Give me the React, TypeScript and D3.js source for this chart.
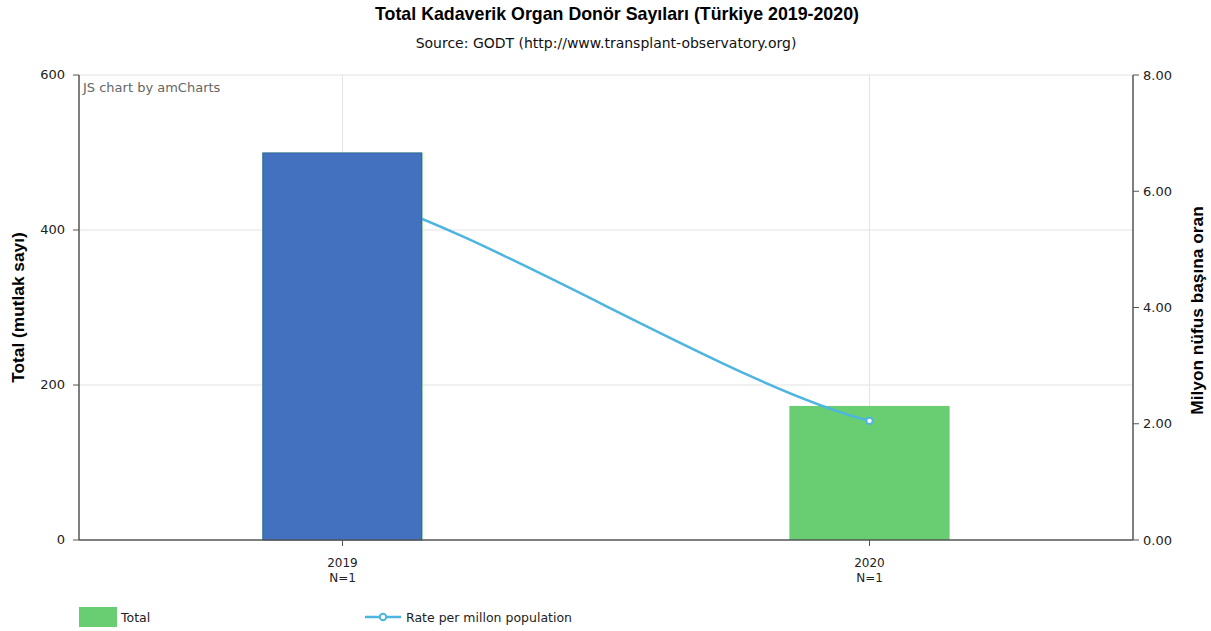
import React from 'react'
import * as d3 from 'd3'

// chart data
const categories: string[] = ['2019', '2020']
const categoryNotes: string[] = ['N=1', 'N=1']
const totalValues: number[] = [500, 173]
const highlightValues: (number | null)[] = [500, null]
const rateValues: number[] = [6.0, 2.05]
const leftTicks: number[] = [0, 200, 400, 600]
const rightTicks: number[] = [0, 2, 4, 6, 8]

const title = 'Total Kadaverik Organ Donör Sayıları (Türkiye 2019-2020)'
const subtitle = 'Source: GODT (http://www.transplant-observatory.org)'
const leftTitle = 'Total (mutlak sayı)'
const rightTitle = 'Milyon nüfus başına oran'
const legendItems: string[] = ['Total', 'Rate per millon population']

const W = 1211
const H = 631
const plot = { left: 79, right: 1133, top: 75, bottom: 540 }

const green = '#68ce71'
const blue = '#4470c0'
const lineColor = '#4db5df'
const verdana = '"DejaVu Sans", Verdana, sans-serif'
const arial = '"Liberation Sans", Arial, sans-serif'

const x = d3.scaleBand<string>()
    .domain(categories)
    .range([plot.left, plot.right])
    .padding(0)

const yLeft = d3.scaleLinear()
    .domain([0, 600])
    .range([plot.bottom, plot.top])

const yRight = d3.scaleLinear()
    .domain([0, 8])
    .range([plot.bottom, plot.top])

const barWidth = x.bandwidth() * 0.304
const cx = (c: string) => (x(c) as number) + x.bandwidth() / 2

// smoothed line like the amCharts one: softer curve than bumpX
function smoothPath(pts: [number, number][]) {
    const p = d3.path()
    p.moveTo(pts[0][0], pts[0][1])
    for (let i = 1; i < pts.length; i++) {
        const [x0, y0] = pts[i - 1]
        const [x1, y1] = pts[i]
        const dx = x1 - x0
        const dy = y1 - y0
        p.bezierCurveTo(x0 + dx * 0.27, y0 + dy * 0.16, x1 - dx * 0.27, y1 - dy * 0.16, x1, y1)
    }
    return p.toString()
}

const App = () => {
    const ratePoints: [number, number][] = categories.map((c, i) => [cx(c), yRight(rateValues[i])])

    return (
        <div style={{ position: 'absolute', left: 0, top: 0 }}>
            <svg width={W} height={H} style={{ display: 'block', background: '#fff' }}>
                <text x={617} y={20} textAnchor="middle" fontFamily={arial} fontWeight="bold" fontSize={17.8} fill="#000">{title}</text>
                <text x={606} y={48} textAnchor="middle" fontFamily={verdana} fontSize={14} fill="#111">{subtitle}</text>

                {/* grid */}
                {leftTicks.filter(t => t > 0).map(t => (
                    <line key={`gh-${t}`} x1={plot.left} x2={plot.right} y1={yLeft(t)} y2={yLeft(t)} stroke="#e3e3e3" />
                ))}
                {categories.map(c => (
                    <line key={`gv-${c}`} x1={cx(c)} x2={cx(c)} y1={plot.top} y2={plot.bottom} stroke="#e3e3e3" />
                ))}

                <text x={83} y={92} fontFamily={verdana} fontSize={13} fill="#666">JS chart by amCharts</text>

                {/* bars of the Total series */}
                {categories.map((c, i) => (
                    <rect key={`bar-${c}`} x={cx(c) - barWidth / 2} y={yLeft(totalValues[i])}
                          width={barWidth} height={plot.bottom - yLeft(totalValues[i])} fill={green} />
                ))}

                {/* rate line */}
                <path d={smoothPath(ratePoints)} fill="none" stroke={lineColor} strokeWidth={2.5} />
                {ratePoints.map(([px, py], i) => (
                    <circle key={`pt-${i}`} cx={px} cy={py} r={3.2} fill="#fff" stroke={lineColor} strokeWidth={2} />
                ))}

                {/* highlighted bar drawn on top */}
                {categories.map((c, i) => highlightValues[i] == null ? null : (
                    <rect key={`hl-${c}`} x={cx(c) - barWidth / 2 + 0.5} y={yLeft(highlightValues[i] as number) + 0.5}
                          width={barWidth - 1.5} height={plot.bottom - yLeft(highlightValues[i] as number) - 0.5}
                          fill={blue} stroke="#3a62ad" strokeWidth={1} />
                ))}

                {/* left axis */}
                <line x1={plot.left} x2={plot.left} y1={plot.top} y2={plot.bottom} stroke="#555" strokeWidth={1.5} />
                {leftTicks.map(t => (
                    <g key={`lt-${t}`}>
                        <line x1={plot.left - 6} x2={plot.left} y1={yLeft(t)} y2={yLeft(t)} stroke="#555" />
                        <text x={plot.left - 14} y={yLeft(t) + 4} textAnchor="end" fontFamily={verdana} fontSize={13} fill="#222">{t}</text>
                    </g>
                ))}
                <text transform={`translate(24, ${(plot.top + plot.bottom) / 2}) rotate(-90)`} textAnchor="middle"
                      fontFamily={arial} fontWeight="bold" fontSize={17.3} fill="#000">{leftTitle}</text>

                {/* right axis */}
                <line x1={plot.right} x2={plot.right} y1={plot.top} y2={plot.bottom} stroke="#555" strokeWidth={1.5} />
                {rightTicks.map(t => (
                    <g key={`rt-${t}`}>
                        <line x1={plot.right} x2={plot.right + 6} y1={yRight(t)} y2={yRight(t)} stroke="#555" />
                        <text x={plot.right + 10} y={yRight(t) + 4.5} fontFamily={verdana} fontSize={13} fill="#222">{t.toFixed(2)}</text>
                    </g>
                ))}
                <text transform={`translate(1203, ${(plot.top + plot.bottom) / 2 + 3}) rotate(-90)`} textAnchor="middle"
                      fontFamily={arial} fontWeight="bold" fontSize={17.3} fill="#000">{rightTitle}</text>

                {/* bottom axis */}
                <line x1={plot.left} x2={plot.right} y1={plot.bottom} y2={plot.bottom} stroke="#555" strokeWidth={1.5} />
                {categories.map((c, i) => (
                    <g key={`xt-${c}`}>
                        <line x1={cx(c)} x2={cx(c)} y1={plot.bottom} y2={plot.bottom + 6} stroke="#555" />
                        <text x={cx(c)} y={plot.bottom + 27} textAnchor="middle" fontFamily={verdana} fontSize={12} fill="#222">{c}</text>
                        <text x={cx(c)} y={plot.bottom + 42} textAnchor="middle" fontFamily={verdana} fontSize={12} fill="#222">{categoryNotes[i]}</text>
                    </g>
                ))}

                {/* legend */}
                <rect x={79} y={607} width={38} height={20} fill={green} />
                <text x={121} y={622} fontFamily={verdana} fontSize={12.5} fill="#222">{legendItems[0]}</text>
                <line x1={365} x2={401} y1={617} y2={617} stroke={lineColor} strokeWidth={2.5} />
                <circle cx={383} cy={617} r={3.2} fill="#fff" stroke={lineColor} strokeWidth={2} />
                <text x={406} y={622} fontFamily={verdana} fontSize={12.5} fill="#222">{legendItems[1]}</text>
            </svg>
        </div>
    )
}

export default App
